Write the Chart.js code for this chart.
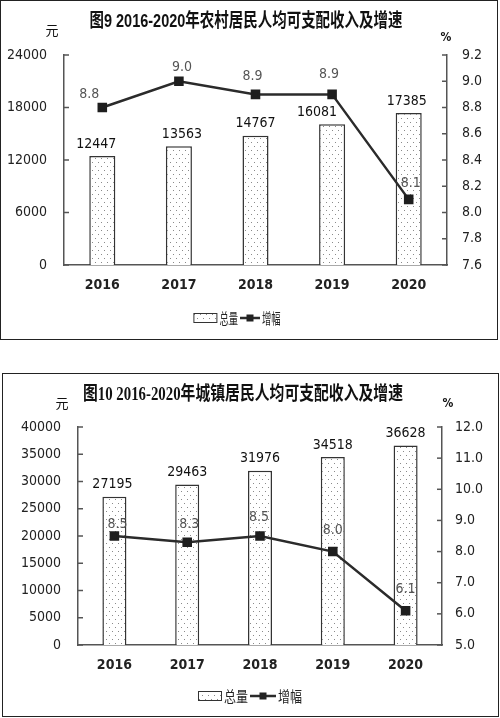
<!DOCTYPE html>
<html>
<head>
<meta charset="utf-8">
<script src="https://cdn.jsdelivr.net/npm/chart.js@4.4.1/dist/chart.umd.min.js"></script>
<style>
  body { margin: 0; background: #fff; }
  .box { position: absolute; border: 1px solid #222; background: #fff; }
  #box1 { left: 0; top: 0; width: 496px; height: 338px; }
  #box2 { left: 2px; top: 373px; width: 495px; height: 342px; }
</style>
</head>
<body>
<div class="box" id="box1"><canvas id="rural" width="496" height="338"></canvas></div>
<div class="box" id="box2"><canvas id="urban" width="495" height="342"></canvas></div>
<script>
// values
const years = ['2016', '2017', '2018', '2019', '2020'];
const ruralIncome = [12447, 13563, 14767, 16081, 17385];
const ruralGrowth = [8.8, 9.0, 8.9, 8.9, 8.1];
const urbanIncome = [27195, 29463, 31976, 34518, 36628];
const urbanGrowth = [8.5, 8.3, 8.5, 8.0, 6.1];
const ruralIncomeAxis = [0, 24000, 6000];   // min, max, step
const ruralGrowthAxis = [7.6, 9.2, 0.2];
const urbanIncomeAxis = [0, 40000, 5000];
const urbanGrowthAxis = [5.0, 12.0, 1.0];

const NARROW = "'Liberation Sans Narrow', 'DejaVu Sans Condensed', 'Liberation Sans', sans-serif";
const CJK = "'Noto Sans CJK SC', sans-serif";
Chart.defaults.font.family = NARROW;
Chart.defaults.color = '#222';

function dotPattern() {
  const c = document.createElement('canvas');
  c.width = 6; c.height = 8;
  const g = c.getContext('2d');
  g.fillStyle = '#fff';
  g.fillRect(0, 0, 6, 8);
  g.fillStyle = '#8a8a8a';
  g.fillRect(1, 1, 1, 1);
  g.fillRect(4, 5, 1, 1);
  return g.createPattern(c, 'repeat');
}
const dots = dotPattern();

function squish(ctx, text, x, y, sx) {
  ctx.save();
  ctx.translate(x, y);
  ctx.scale(sx, 1);
  ctx.fillText(text, 0, 0);
  ctx.restore();
}

const decor = {
  id: 'decor',
  afterDatasetsDraw(chart, args, o) {
    const ctx = chart.ctx;
    ctx.save();
    ctx.textAlign = 'center';
    ctx.textBaseline = 'middle';
    ctx.font = '14px ' + NARROW;
    ctx.fillStyle = '#111';
    const bars = chart.data.datasets[1].data;
    chart.getDatasetMeta(1).data.forEach((el, i) => {
      ctx.fillText(String(bars[i]), el.x + o.barDx[i], el.y - 12);
    });
    ctx.fillStyle = '#555';
    const rates = chart.data.datasets[0].data;
    chart.getDatasetMeta(0).data.forEach((el, i) => {
      ctx.fillText(rates[i].toFixed(1), el.x + o.lineDx[i], el.y + o.lineDy[i]);
    });
    ctx.restore();
  },
  afterDraw(chart, args, o) {
    const ctx = chart.ctx;
    ctx.save();
    // tick marks pointing into the plot
    ctx.strokeStyle = '#555';
    ctx.lineWidth = 1.5;
    ['y', 'y1'].forEach(id => {
      const s = chart.scales[id];
      const x0 = id === 'y' ? s.right : s.left;
      const dir = id === 'y' ? 1 : -1;
      s.ticks.forEach(t => {
        const y = s.getPixelForValue(t.value);
        ctx.beginPath();
        ctx.moveTo(x0, y);
        ctx.lineTo(x0 + dir * 5, y);
        ctx.stroke();
      });
    });

    // title
    ctx.fillStyle = '#111';
    ctx.textAlign = 'center';
    ctx.textBaseline = 'middle';
    ctx.font = 'bold 19px ' + o.titleFont;
    const tw = ctx.measureText(o.title).width;
    squish(ctx, o.title, o.titleX, o.titleY, o.titleWidth / tw);

    // units
    ctx.font = '13px ' + CJK;
    ctx.fillText('元', o.yuan[0], o.yuan[1]);
    ctx.font = 'bold 12px ' + NARROW;
    ctx.fillText('%', o.pct[0], o.pct[1]);

    // legend
    const barLabel = chart.data.datasets[1].label;
    const lineLabel = chart.data.datasets[0].label;
    ctx.font = o.legendFont + 'px ' + CJK;
    const w1 = ctx.measureText(barLabel).width * o.legendSx;
    const w2 = ctx.measureText(lineLabel).width * o.legendSx;
    const total = 24 + 2 + w1 + 2 + o.lineLen + 2 + w2;
    let x = o.legendX - total / 2;
    const y = o.legendY;
    ctx.fillStyle = dots;
    ctx.fillRect(x, y - 5, 24, 10);
    ctx.strokeStyle = '#333';
    ctx.lineWidth = 1;
    ctx.strokeRect(x + 0.5, y - 4.5, 23, 9);
    x += 26;
    ctx.fillStyle = '#222';
    ctx.textAlign = 'left';
    squish(ctx, barLabel, x, y, o.legendSx);
    x += w1 + 2;
    ctx.strokeStyle = '#2b2b2b';
    ctx.lineWidth = 2.5;
    ctx.beginPath();
    ctx.moveTo(x, y);
    ctx.lineTo(x + o.lineLen, y);
    ctx.stroke();
    ctx.fillRect(x + o.lineLen / 2 - 3.5, y - 3.5, 7, 7);
    x += o.lineLen + 2;
    squish(ctx, lineLabel, x, y, o.legendSx);
    ctx.restore();
  }
};

function makeChart(id, income, growth, leftAxis, rightAxis, geo, decorOpts) {
  const axisBorder = { display: true, color: '#555', width: 1.5 };
  return new Chart(document.getElementById(id), {
    type: 'bar',
    data: {
      labels: years,
      datasets: [
        {
          type: 'line',
          label: '增幅',
          data: growth,
          yAxisID: 'y1',
          borderColor: '#2b2b2b',
          borderWidth: 2.5,
          pointStyle: 'rect',
          pointRadius: 5,
          pointBackgroundColor: '#1e1e1e',
          pointBorderColor: '#1e1e1e',
          tension: 0,
          order: 0
        },
        {
          type: 'bar',
          label: '总量',
          data: income,
          yAxisID: 'y',
          backgroundColor: dots,
          borderColor: '#333',
          borderWidth: 1.5,
          barPercentage: geo.barPct,
          categoryPercentage: 1,
          order: 1
        }
      ]
    },
    options: {
      responsive: false,
      animation: false,
      layout: { padding: geo.padding },
      plugins: {
        legend: { display: false },
        tooltip: { enabled: false },
        decor: decorOpts
      },
      scales: {
        x: {
          grid: { display: false },
          border: axisBorder,
          ticks: { font: { size: 14, weight: 'bold' }, padding: 4, color: '#222' },
          afterFit(s) { s.height = 30; }
        },
        y: {
          position: 'left',
          min: leftAxis[0],
          max: leftAxis[1],
          grid: { display: false },
          border: axisBorder,
          ticks: {
            stepSize: leftAxis[2],
            font: { size: 14 },
            padding: 9,
            color: '#222',
            callback: v => String(v)
          },
          afterFit(s) { s.width = geo.leftW; }
        },
        y1: {
          position: 'right',
          min: rightAxis[0],
          max: rightAxis[1],
          grid: { display: false },
          border: axisBorder,
          ticks: {
            stepSize: rightAxis[2],
            font: { size: 14 },
            padding: geo.rightPad,
            color: '#222',
            callback: v => Number(v).toFixed(1)
          },
          afterFit(s) { s.width = geo.rightW; }
        }
      }
    },
    plugins: [decor]
  });
}

makeChart('rural', ruralIncome, ruralGrowth, ruralIncomeAxis, ruralGrowthAxis,
  { padding: { left: 0, right: 0, top: 54, bottom: 44 }, leftW: 63, rightW: 50, rightPad: 7, barPct: 0.34 },
  {
    title: '图9 2016-2020年农村居民人均可支配收入及增速',
    titleFont: "'Liberation Sans', " + CJK,
    titleX: 245, titleY: 21, titleWidth: 313,
    yuan: [51, 29], pct: [445, 37],
    legendX: 236, legendY: 317, legendFont: 15, legendSx: 0.62, lineLen: 20,
    barDx: [-6, 3, 0, -15, -2],
    lineDx: [-13, 3, -3, -3, 2],
    lineDy: [-13, -14, -18, -20, -16]
  });

makeChart('urban', urbanIncome, urbanGrowth, urbanIncomeAxis, urbanGrowthAxis,
  { padding: { left: 0, right: 0, top: 53, bottom: 41 }, leftW: 75, rightW: 56, rightPad: 5, barPct: 0.33 },
  {
    title: '图10 2016-2020年城镇居民人均可支配收入及增速',
    titleFont: "'Liberation Serif', " + CJK,
    titleX: 240, titleY: 21, titleWidth: 320,
    yuan: [59, 29], pct: [445, 30],
    legendX: 247, legendY: 322, legendFont: 15, legendSx: 0.8, lineLen: 26,
    barDx: [-2, 0, 0, 0, 0],
    lineDx: [3, 2, -1, 0, 0],
    lineDy: [-12, -18, -19, -21, -21]
  });
</script>
</body>
</html>
